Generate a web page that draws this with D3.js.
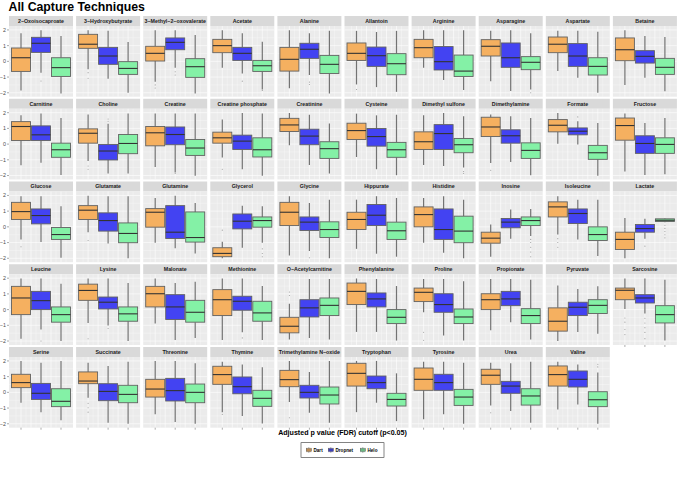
<!DOCTYPE html>
<html><head><meta charset="utf-8">
<script src="https://cdn.jsdelivr.net/npm/d3@7"></script>
<style>body{margin:0;background:#fff}svg{display:block}</style>
</head><body>
<svg id="c" width="677" height="490"></svg>
<script>
const metabolites = ["2−Oxoisocaproate","3−Hydroxybutyrate","3−Methyl−2−oxovalerate","Acetate","Alanine","Allantoin","Arginine","Asparagine","Aspartate","Betaine",
"Carnitine","Choline","Creatine","Creatine phosphate","Creatinine","Cysteine","Dimethyl sulfone","Dimethylamine","Formate","Fructose",
"Glucose","Glutamate","Glutamine","Glycerol","Glycine","Hippurate","Histidine","Inosine","Isoleucine","Lactate",
"Leucine","Lysine","Malonate","Methionine","O−Acetylcarnitine","Phenylalanine","Proline","Propionate","Pyruvate","Sarcosine",
"Serine","Succinate","Threonine","Thymine","Trimethylamine N−oxide","Tryptophan","Tyrosine","Urea","Valine"];
const techniques = ["Dart","Dropnet","Helo"];
const colors = ["#F5B060","#4343F2","#84F1A6"];
const yTicks = [-2,-1,0,1,2];
const yTickLabels = ["−2","−1","0","1","2"];
// [lower whisker, q1, median, q3, upper whisker]
const dartStats = [
[-1.85,-0.64,0.23,0.85,1.79],[-0.51,0.83,1.09,1.72,1.98],[-1.30,0.02,0.51,0.96,1.98],[-0.40,0.55,1.0,1.4,1.98],[-1.72,-0.62,0.13,0.89,1.98],
[-1.47,0.06,0.51,1.17,1.94],[-0.40,0.23,0.87,1.40,1.98],[-1.26,0.34,0.96,1.38,1.94],[-0.62,0.55,1.09,1.55,1.94],[-1.51,0.04,0.74,1.49,1.98],
[-1.35,0.23,1.12,1.43,1.83],[-1.07,0.06,0.69,0.97,1.89],[-1.45,-0.11,0.72,1.12,1.94],[-0.86,0.06,0.40,0.76,1.56],[-0.08,0.80,1.22,1.64,1.98],
[-0.82,0.29,0.86,1.33,1.94],[-1.33,-0.34,0.15,0.78,1.83],[-1.20,0.48,1.09,1.71,1.89],[0.02,0.78,1.20,1.56,1.98],[-1.75,0.25,1.18,1.66,1.94],
[-0.80,0.47,0.97,1.56,1.95],[-0.34,0.47,1.06,1.35,1.98],[-1.01,-0.02,0.93,1.16,1.84],[-2.0,-1.9,-1.69,-1.33,-0.95],[-1.82,0.08,0.93,1.56,1.95],
[-1.40,-0.17,0.47,0.93,1.73],[-1.01,0.0,0.78,1.27,1.84],[-1.90,-1.04,-0.72,-0.34,0.15],[-0.49,0.63,1.27,1.59,1.95],[-2.0,-1.44,-0.80,-0.34,0.57],
[-1.86,-0.32,0.74,1.48,1.98],[-0.85,0.59,1.22,1.62,1.98],[-0.89,0.17,1.01,1.48,1.98],[-1.94,-0.38,0.63,1.27,1.98],[-1.90,-1.48,-1.06,-0.49,0.38],
[-1.42,0.32,1.16,1.69,1.98],[-0.17,0.51,1.10,1.37,1.95],[-1.31,0.0,0.63,1.01,1.95],[-2.0,-1.37,-0.74,0.11,1.53],[0.04,0.63,1.23,1.37,1.98],
[-0.66,0.30,0.62,1.15,2.0],[-0.34,0.55,0.72,1.30,1.89],[-1.40,-0.30,0.21,0.83,2.0],[-1.26,0.51,1.13,1.66,1.94],[-0.62,0.36,0.81,1.40,2.0],
[-1.26,0.40,1.21,1.85,2.0],[-1.72,0.13,0.83,1.55,1.94],[-0.83,0.51,1.09,1.47,1.89],[-1.09,0.40,1.13,1.68,1.94]];
const dropnetStats = [
[-0.72,0.57,1.15,1.53,1.98],[-1.10,-0.19,0.34,0.89,1.94],[-0.40,0.74,1.21,1.49,1.98],[-0.77,0.06,0.51,0.89,1.79],[-0.87,0.19,0.77,1.15,1.79],
[-1.64,-0.32,0.36,0.91,1.87],[-1.19,-0.55,-0.02,0.94,1.98],[-1.89,-0.38,0.23,1.17,1.98],[-1.04,-0.32,0.34,1.13,1.94],[-1.04,-0.11,0.32,0.68,1.62],
[-1.18,0.23,0.59,1.16,1.94],[-1.87,-1.01,-0.44,-0.02,1.30],[-1.81,-0.04,0.61,1.09,1.94],[-1.6,-0.34,0.19,0.57,1.98],[-1.33,-0.04,0.51,0.95,1.87],
[-1.6,-0.13,0.48,0.99,1.83],[-1.39,-0.34,0.67,1.24,1.98],[-1.14,0.06,0.53,0.91,1.77],[-0.02,0.59,0.82,1.03,1.45],[-1.96,-0.59,0.04,0.53,1.35],
[-0.97,0.19,0.72,1.14,1.95],[-1.06,-0.27,0.40,0.89,1.95],[-1.37,-0.74,-0.34,1.35,1.98],[-1.33,-0.13,0.36,0.82,1.35],[-1.54,-0.23,0.30,0.63,1.52],
[-1.71,0.08,0.74,1.42,1.95],[-1.65,-0.80,-0.17,1.14,1.95],[-0.76,-0.06,0.30,0.53,1.10],[-0.80,0.21,0.85,1.14,1.73],[-0.75,-0.34,-0.11,0.15,0.51],
[-1.27,0.0,0.57,1.16,1.98],[-1.01,0.04,0.47,0.80,1.98],[-1.94,-0.63,0.17,0.95,1.70],[-1.44,-0.04,0.53,0.85,1.98],[-1.80,-0.47,0.11,0.63,1.95],
[-1.42,0.17,0.68,1.06,1.95],[-1.65,-0.17,0.32,1.01,1.95],[-0.80,0.25,0.68,1.16,1.95],[-1.42,-0.38,0.15,0.47,1.31],[-0.25,0.42,0.74,0.95,1.98],
[-1.26,-0.45,-0.06,0.57,1.89],[-1.94,-0.53,0.06,0.55,1.68],[-1.89,-0.55,0.11,0.89,2.0],[-1.51,-0.09,0.36,0.98,1.77],[-1.30,-0.36,0.0,0.45,1.30],
[-0.66,0.23,0.62,1.04,2.0],[-1.40,0.13,0.62,1.15,1.94],[-1.19,-0.06,0.40,0.70,1.85],[-0.77,0.34,0.83,1.36,1.77]];
const heloStats = [
[-2.04,-0.96,-0.40,0.23,1.62],[-2.0,-0.83,-0.45,-0.02,1.23],[-2.04,-1.02,-0.34,0.17,1.68],[-1.79,-0.64,-0.28,0.06,1.25],[-2.04,-0.77,-0.19,0.38,1.94],
[-1.94,-0.85,-0.15,0.49,1.94],[-1.83,-0.96,-0.62,0.40,1.98],[-1.79,-0.53,-0.06,0.30,1.79],[-2.0,-0.87,-0.32,0.23,1.89],[-1.91,-0.83,-0.38,0.19,1.55],
[-1.96,-0.84,-0.36,0.06,1.66],[-1.87,-0.61,0.04,0.61,1.94],[-2.02,-0.72,-0.25,0.29,1.94],[-2.02,-0.82,-0.36,0.40,1.94],[-1.87,-0.91,-0.29,0.15,1.31],
[-1.98,-0.84,-0.36,0.11,1.87],[-1.49,-0.55,-0.04,0.36,1.77],[-1.98,-0.91,-0.40,0.08,1.66],[-2.02,-0.97,-0.55,-0.08,1.35],[-1.92,-0.59,-0.02,0.40,1.66],
[-1.97,-0.80,-0.49,-0.04,1.31],[-2.0,-1.01,-0.42,0.25,1.95],[-1.69,-0.97,-0.68,0.95,1.52],[-1.01,-0.02,0.40,0.63,1.31],[-2.0,-0.68,-0.17,0.32,1.73],
[-1.9,-0.80,-0.25,0.30,1.84],[-2.0,-1.01,-0.27,0.68,1.73],[-0.59,0.08,0.40,0.63,1.14],[-1.86,-0.87,-0.49,0.0,1.73],[0.30,0.34,0.42,0.51,0.55],
[-2.0,-0.80,-0.32,0.17,1.65],[-2.0,-0.74,-0.27,0.17,1.70],[-1.80,-0.80,-0.17,0.59,1.78],[-1.94,-0.74,-0.21,0.53,1.5],[-1.90,-0.38,0.27,0.74,1.95],
[-1.97,-0.89,-0.49,0.0,1.5],[-1.97,-0.89,-0.47,0.04,1.80],[-1.90,-0.89,-0.38,0.06,1.90],[-1.54,-0.25,0.27,0.63,1.48],[-1.97,-0.85,-0.32,0.25,1.90],
[-1.77,-0.91,-0.57,0.23,2.0],[-2.0,-0.66,-0.13,0.45,1.94],[-2.0,-0.66,0.0,0.53,1.85],[-1.98,-0.89,-0.38,0.13,1.6],[-1.94,-0.74,-0.17,0.34,2.0],
[-1.83,-0.87,-0.45,-0.06,1.21],[-2.0,-0.83,-0.30,0.19,1.89],[-1.94,-0.81,-0.23,0.23,1.94],[-2.0,-0.91,-0.47,0.04,1.26]];
// outliers keyed by metabolite index
const dartOutliers = {1:[-0.72,-1.08],2:[-1.5,-1.7],5:[-1.79],11:[-1.39,-1.6],13:[-1.6],17:[-1.66],20:[-1.27],21:[-0.87],23:[-0.21],
  28:[-0.75,-1.0,-1.3],31:[-1.86],34:[1.12,0.9],36:[-1.44,-1.95],39:[-0.53,-0.80,-1.27,-1.59],41:[-0.70,-0.98,-1.26],43:[-1.4],44:[-1.62],47:[-1.3]};
const dropnetOutliers = {0:[-1.25],2:[-0.66,-0.87],3:[-1.26],4:[-1.32,-1.47],11:[1.45,1.6],12:[-1.87],18:[1.73],24:[-1.97],29:[-1.23],
  30:[-2.0],31:[-1.2],33:[-1.8],39:[-0.55,-0.85,-1.15,-1.45,-1.85]};
const heloOutliers = {3:[-1.85],7:[-2.0],16:[-1.75,-1.87],23:[-1.4,-1.7,-1.9],27:[-0.8,-1.0,-1.3,-1.6,-1.9],29:[0.1,-0.1,-0.3,-0.5,-0.7],48:[1.62,1.79]};

const allStats = [dartStats, dropnetStats, heloStats];
const allOut = [dartOutliers, dropnetOutliers, heloOutliers];

const svg = d3.select("#c");
const FONT = "'Liberation Sans', Arial, Helvetica, sans-serif";
svg.append("rect").attr("width",677).attr("height",490).attr("fill","#fff");

svg.append("text").attr("x",8.5).attr("y",11).attr("font-family",FONT).attr("font-weight","bold")
  .attr("font-size",12.3).attr("fill","#000").text("All Capture Techniques");

const nCols = 10, left0 = 9, colPitch = 67.1, pw = 64;
const top0 = 16, rowPitch = 82.75, stripH = 10, ph = 70.7;

const x = d3.scaleLinear().domain([0.4,3.6]).range([0,pw]);
const y = d3.scaleLinear().domain([-2.25,2.25]).range([ph,0]);
const boxW = x(1.45)-x(0.5);

metabolites.forEach((name,i)=>{
  const c = i % nCols, r = Math.floor(i / nCols);
  const gx = left0 + c*colPitch, gy = top0 + r*rowPitch;
  const g = svg.append("g").attr("transform",`translate(${gx},${gy})`);
  g.append("rect").attr("width",pw).attr("height",stripH).attr("fill","#d9d9d9");
  g.append("text").attr("x",pw/2).attr("y",stripH/2+1.9).attr("text-anchor","middle")
    .attr("font-family",FONT).attr("font-weight","bold").attr("font-size",5.3).attr("fill","#1a1a1a").text(name);
  const p = g.append("g").attr("transform",`translate(0,${stripH})`);
  p.append("rect").attr("width",pw).attr("height",ph).attr("fill","#ebebeb");
  const yMinor = [-1.5,-0.5,0.5,1.5], xMinor=[0.75,1.25,1.75,2.25,2.75,3.25], xMajor=[1,1.5,2,2.5,3];
  p.selectAll(".ymn").data(yMinor).join("line").attr("x1",0).attr("x2",pw).attr("y1",d=>y(d)).attr("y2",d=>y(d)).attr("stroke","#fff").attr("stroke-width",0.3);
  p.selectAll(".xmn").data(xMinor).join("line").attr("y1",0).attr("y2",ph).attr("x1",d=>x(d)).attr("x2",d=>x(d)).attr("stroke","#fff").attr("stroke-width",0.3);
  p.selectAll(".ymj").data(yTicks).join("line").attr("x1",0).attr("x2",pw).attr("y1",d=>y(d)).attr("y2",d=>y(d)).attr("stroke","#fff").attr("stroke-width",0.6);
  p.selectAll(".xmj").data(xMajor).join("line").attr("y1",0).attr("y2",ph).attr("x1",d=>x(d)).attr("x2",d=>x(d)).attr("stroke","#fff").attr("stroke-width",0.6);
  techniques.forEach((t,k)=>{
    const s = allStats[k][i];
    const cx = x(k+1);
    p.append("line").attr("x1",cx).attr("x2",cx).attr("y1",y(s[4])).attr("y2",y(s[3])).attr("stroke","#737373").attr("stroke-width",1.2);
    p.append("line").attr("x1",cx).attr("x2",cx).attr("y1",y(s[1])).attr("y2",y(s[0])).attr("stroke","#737373").attr("stroke-width",1.2);
    p.append("rect").attr("x",cx-boxW/2).attr("width",boxW).attr("y",y(s[3])).attr("height",Math.max(0.5,y(s[1])-y(s[3])))
      .attr("fill",colors[k]).attr("stroke","#616161").attr("stroke-width",0.9);
    p.append("line").attr("x1",cx-boxW/2).attr("x2",cx+boxW/2).attr("y1",y(s[2])).attr("y2",y(s[2])).attr("stroke","#333").attr("stroke-width",1.1);
    const outs = allOut[k][i] || [];
    p.selectAll(null).data(outs).join("circle").attr("cx",cx).attr("cy",d=>y(d)).attr("r",0.55).attr("fill","#9a9a9a");
  });
  if (c === 0) {
    yTicks.forEach((v,j)=>{
      p.append("line").attr("x1",-2).attr("x2",0).attr("y1",y(v)).attr("y2",y(v)).attr("stroke","#555").attr("stroke-width",0.5);
      p.append("text").attr("x",-3).attr("y",y(v)+1.9).attr("text-anchor","end").attr("font-family",FONT)
        .attr("font-size",5.4).attr("fill","#4d4d4d").text(yTickLabels[j]);
    });
  }
  const isBottom = (r === 4) || (r === 3 && i + nCols >= metabolites.length);
  if (isBottom) {
    [1,2,3].forEach(v=>{
      p.append("line").attr("x1",x(v)).attr("x2",x(v)).attr("y1",ph).attr("y2",ph+2).attr("stroke","#555").attr("stroke-width",0.5);
    });
  }
});

svg.append("text").attr("x",342.5).attr("y",435).attr("text-anchor","middle").attr("font-family",FONT)
  .attr("font-weight","bold").attr("font-size",7.1).attr("fill","#000").text("Adjusted p value (FDR) cutoff (p<0.05)");

const lg = svg.append("g").attr("transform","translate(301,442.7)");
lg.append("rect").attr("width",83).attr("height",14.6).attr("fill","#fff").attr("stroke","#333").attr("stroke-width",0.6);
const keyX = [5, 27, 59];
techniques.forEach((t,k)=>{
  const kg = lg.append("g").attr("transform",`translate(${keyX[k]},4.5)`);
  kg.append("rect").attr("width",5.6).attr("height",5.6).attr("fill","#f2f2f2");
  kg.append("line").attr("x1",2.8).attr("x2",2.8).attr("y1",0).attr("y2",5.6).attr("stroke","#6b6b6b").attr("stroke-width",0.6);
  kg.append("rect").attr("x",0.3).attr("y",1.2).attr("width",5).attr("height",3.2).attr("fill",colors[k]).attr("stroke","#5a5a5a").attr("stroke-width",0.5);
  kg.append("line").attr("x1",0.3).attr("x2",5.3).attr("y1",2.8).attr("y2",2.8).attr("stroke","#333").attr("stroke-width",0.6);
  lg.append("text").attr("x",keyX[k]+7.5).attr("y",9.2).attr("font-family",FONT).attr("font-weight","bold")
    .attr("font-size",4.6).attr("fill","#000").text(t);
});
</script>
</body></html>
